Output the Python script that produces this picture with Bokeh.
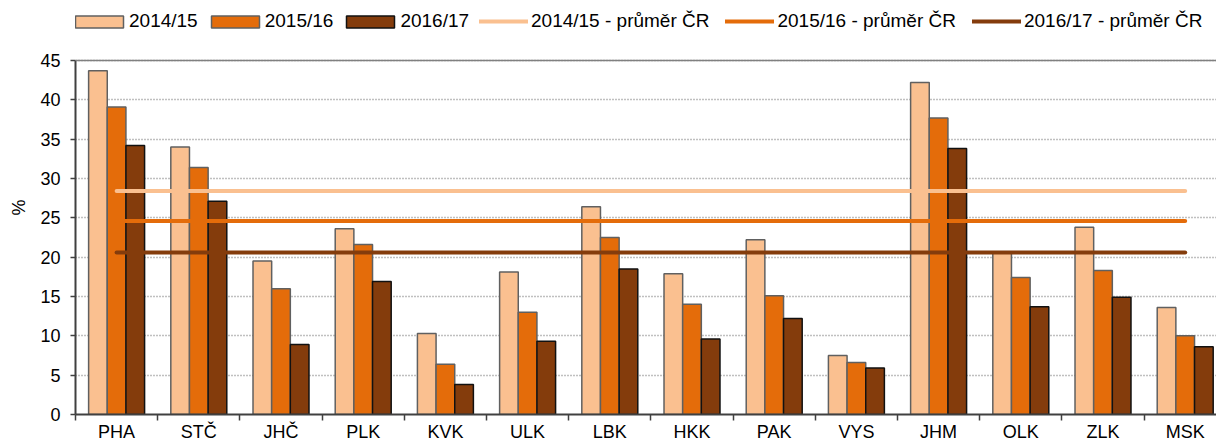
from bokeh.plotting import figure
from bokeh.models import Legend, LegendItem, FixedTicker, Range1d, ColumnDataSource, Span
from bokeh.embed import file_html
from bokeh.resources import INLINE

regions = ["PHA", "STČ", "JHČ", "PLK", "KVK", "ULK", "LBK", "HKK", "PAK", "VYS", "JHM", "OLK", "ZLK", "MSK"]
series = ["2014/15", "2015/16", "2016/17"]
v1415 = [43.7, 34.0, 19.5, 23.6, 10.3, 18.1, 26.4, 17.9, 22.2, 7.5, 42.2, 20.6, 23.8, 13.6]
v1516 = [39.1, 31.4, 16.0, 21.6, 6.4, 13.0, 22.5, 14.0, 15.1, 6.6, 37.7, 17.4, 18.3, 10.0]
v1617 = [34.2, 27.1, 8.9, 16.9, 3.8, 9.3, 18.5, 9.6, 12.2, 5.9, 33.8, 13.7, 14.9, 8.6]
averages = [28.4, 24.6, 20.6]
avg_labels = ["2014/15 - průměr ČR", "2015/16 - průměr ČR", "2016/17 - průměr ČR"]
y_ticks = [0, 5, 10, 15, 20, 25, 30, 35, 40, 45]
y_max = 45

FONT = "Liberation Sans"
fills = ["#FAC090", "#E46C0A", "#843C0C"]
outlines = ["#606060", "#606060", "#111111"]
line_cols = ["#FAC090", "#E46C0A", "#843C0C"]

W, H = 1216, 445
LEFT = 75
BOTTOM = 31
frame_h = H - BOTTOM
frame_w = W - LEFT
top_gap = 60          # pixels above the 45 line reserved for the legend
cat_px = 82.2         # pixel width of one category in the reference
y_end = y_max * frame_h / (frame_h - top_gap)

n = len(regions)
x_end = frame_w / cat_px
p = figure(width=W, height=H, output_backend="svg", toolbar_location=None,
           x_range=Range1d(0, x_end), y_range=Range1d(0, y_end),
           min_border_left=LEFT, min_border_right=0, min_border_bottom=BOTTOM, min_border_top=0)
p.outline_line_color = None

p.xgrid.grid_line_color = None
p.ygrid.grid_line_color = "#808080"
p.ygrid.grid_line_width = 1.5
p.ygrid.grid_line_dash = "1 2"

p.add_layout(Span(location=y_max, dimension="width", line_color="#808080", line_width=1.5))

bw = 0.227
offsets = [-bw, 0, bw]
bar_items = []
for s, vals, fc, oc, off in zip(series, [v1415, v1516, v1617], fills, outlines, offsets):
    src = ColumnDataSource(dict(x=[i + 0.5 + off for i in range(n)], top=vals))
    r = p.vbar(x="x", top="top", width=bw, bottom=0, source=src,
               fill_color=fc, line_color=oc, line_width=1.5)
    bar_items.append(LegendItem(label=s, renderers=[r]))

line_items = []
for a, lab, lc in zip(averages, avg_labels, line_cols):
    r = p.line(x=[0.5, n - 0.5], y=[a, a], line_color=lc, line_width=4, line_cap="round")
    line_items.append(LegendItem(label=lab, renderers=[r]))

# x axis
xa = p.xaxis[0]
xa.ticker = FixedTicker(ticks=[i + 0.5 for i in range(n)], minor_ticks=list(range(n + 1)))
xa.major_label_overrides = {i + 0.5: name for i, name in enumerate(regions)}
xa.major_tick_line_color = None
xa.major_tick_in = 0
xa.major_tick_out = 0
xa.minor_tick_line_color = "#404040"
xa.minor_tick_line_width = 1.5
xa.minor_tick_in = 0
xa.minor_tick_out = 6
xa.axis_line_color = "#404040"
xa.axis_line_width = 2
xa.major_label_text_font = FONT
xa.major_label_text_font_size = "18px"
xa.major_label_text_color = "#000000"
xa.major_label_standoff = 1

# y axis
ya = p.yaxis[0]
ya.ticker = FixedTicker(ticks=y_ticks)
ya.bounds = (0, y_max)
ya.minor_tick_line_color = None
ya.major_tick_line_color = "#404040"
ya.major_tick_line_width = 1.5
ya.major_tick_in = 0
ya.major_tick_out = 5
ya.axis_line_color = "#404040"
ya.axis_line_width = 2
ya.major_label_text_font = FONT
ya.major_label_text_font_size = "18px"
ya.major_label_text_color = "#000000"
ya.major_label_standoff = 10
ya.axis_label = "%"
ya.axis_label_text_font = FONT
ya.axis_label_text_font_size = "18px"
ya.axis_label_text_font_style = "normal"
ya.axis_label_text_color = "#000000"
ya.axis_label_standoff = 8

common = dict(orientation="horizontal", padding=0, margin=0,
              label_text_font=FONT, label_text_font_size="19px", label_text_color="#000000",
              label_height=20, border_line_color=None, background_fill_alpha=0)
leg_bars = Legend(items=bar_items, location=(-6, frame_h - 32), spacing=7,
                  glyph_width=60, glyph_height=15, label_standoff=-2, **common)
leg_lines = Legend(items=line_items, location=(404, frame_h - 32), spacing=16,
                   glyph_width=49, glyph_height=12, label_standoff=3, **common)
p.add_layout(leg_bars, "center")
p.add_layout(leg_lines, "center")

open("out.html", "w").write(file_html(p, INLINE))
